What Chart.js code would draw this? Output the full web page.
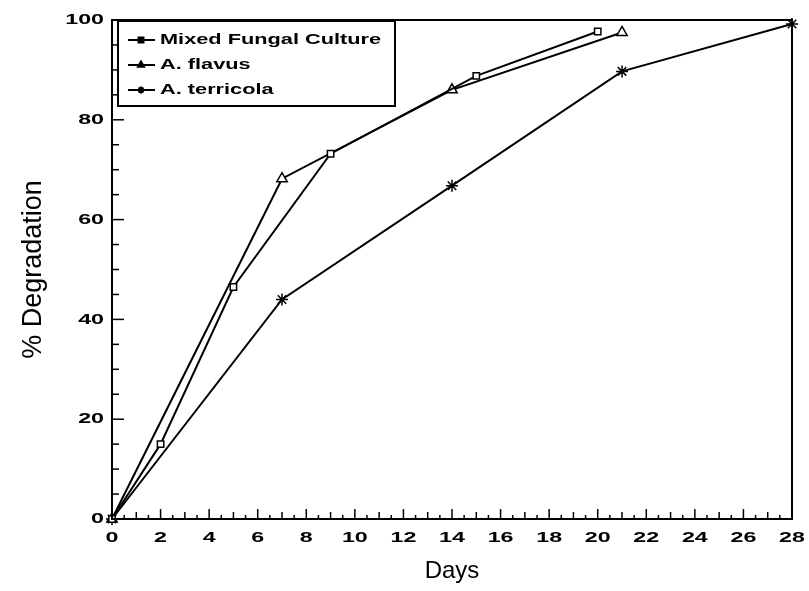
<!DOCTYPE html>
<html>
<head>
<meta charset="utf-8">
<script src="https://cdn.jsdelivr.net/npm/chart.js@4.4.1/dist/chart.umd.min.js"></script>
<style>
  html, body { margin: 0; padding: 0; background: #fff; }
  #wrap { width: 809px; height: 591px; }
</style>
</head>
<body>
<div id="wrap"><canvas id="chart" width="809" height="591"></canvas></div>
<script>
// data
var seriesLabels = ["Mixed Fungal Culture", "A. flavus", "A. terricola"];
var mixedDays = [0, 2, 5, 9, 15, 20];
var mixedValues = [0, 15, 46.5, 73.2, 88.8, 97.7];
var flavusDays = [0, 7, 14, 21];
var flavusValues = [0, 68.2, 86, 97.5];
var terricolaDays = [0, 7, 14, 21, 28];
var terricolaValues = [0, 44, 66.8, 89.7, 99.2];
var dayTicks = [0, 2, 4, 6, 8, 10, 12, 14, 16, 18, 20, 22, 24, 26, 28];
var percentTicks = [0, 20, 40, 60, 80, 100];

var boldFont = 'bold 15px "Liberation Sans", Arial, sans-serif';
var stretch = 1.55;

function toPoints(days, values) {
    return days.map(function(d, i) { return { x: d, y: values[i] }; });
}

function wideText(ctx, text, x, y, align, sx) {
    ctx.save();
    ctx.translate(x, y);
    ctx.scale(sx, 1);
    ctx.textAlign = align;
    ctx.textBaseline = "middle";
    ctx.fillText(text, 0, 0);
    ctx.restore();
}

function line(ctx, x1, y1, x2, y2) {
    ctx.beginPath();
    ctx.moveTo(x1, y1);
    ctx.lineTo(x2, y2);
    ctx.stroke();
}

// box, inward ticks and wide bold tick labels
var axisDecor = {
    id: "axisDecor",
    afterDraw: function(chart) {
        var ctx = chart.ctx;
        var area = chart.chartArea;
        var xs = chart.scales.x;
        var ys = chart.scales.y;
        ctx.save();
        ctx.strokeStyle = "#000";
        ctx.fillStyle = "#000";
        ctx.lineWidth = 2;
        ctx.strokeRect(area.left, area.top, area.right - area.left, area.bottom - area.top);

        ctx.lineWidth = 1.5;
        for (var v = 0; v <= 100; v += 5) {
            var py = ys.getPixelForValue(v);
            line(ctx, area.left, py, area.left + (v % 20 === 0 ? 12 : 7), py);
        }
        for (var d = 0; d <= 28; d += 0.5) {
            var px = xs.getPixelForValue(d);
            var len = d % 2 === 0 ? 10 : (d % 1 === 0 ? 7 : 4);
            line(ctx, px, area.bottom, px, area.bottom - len);
        }

        ctx.font = boldFont;
        xs.ticks.forEach(function(t) {
            wideText(ctx, String(t.value), xs.getPixelForValue(t.value), area.bottom + 19, "center", stretch);
        });
        ys.ticks.forEach(function(t) {
            wideText(ctx, String(t.value), area.left - 8, ys.getPixelForValue(t.value), "right", stretch);
        });
        ctx.restore();
    }
};

// legend box in the upper left of the plot
var legendBox = {
    id: "legendBox",
    afterDraw: function(chart) {
        var ctx = chart.ctx;
        var left = 118, top = 21, right = 395, bottom = 106;
        ctx.save();
        ctx.fillStyle = "#fff";
        ctx.fillRect(left, top, right - left, bottom - top);
        ctx.strokeStyle = "#000";
        ctx.lineWidth = 2;
        ctx.strokeRect(left, top, right - left, bottom - top);
        ctx.font = boldFont;
        chart.data.datasets.forEach(function(ds, i) {
            var y = top + 19 + i * 25;
            ctx.lineWidth = 2;
            ctx.strokeStyle = "#000";
            line(ctx, 128, y, 155, y);
            ctx.fillStyle = "#000";
            Chart.helpers.drawPoint(ctx, { pointStyle: ds.pointStyle, radius: 3.5, borderWidth: 1.5, rotation: 0 }, 141, y);
            ctx.fillStyle = "#000";
            wideText(ctx, ds.label, 160, y, "left", 1.45);
        });
        ctx.restore();
    }
};

function makeSet(label, days, values, style, radius) {
    return {
        label: label,
        data: toPoints(days, values),
        borderColor: "#000",
        borderWidth: 2,
        pointStyle: style,
        pointRadius: radius,
        pointBorderColor: "#000",
        pointBackgroundColor: "#fff",
        pointBorderWidth: 1.5,
        tension: 0,
        clip: false
    };
}

var ctx = document.getElementById("chart").getContext("2d");
var chart = new Chart(ctx, {
    type: "line",
    data: {
        datasets: [
            makeSet(seriesLabels[0], mixedDays, mixedValues, "rect", 4.5),
            makeSet(seriesLabels[1], flavusDays, flavusValues, "triangle", 6),
            makeSet(seriesLabels[2], terricolaDays, terricolaValues, "star", 6)
        ]
    },
    options: {
        responsive: false,
        devicePixelRatio: 1,
        animation: false,
        layout: { padding: { top: 20, right: 17, left: 0, bottom: 0 } },
        plugins: {
            legend: { display: false },
            tooltip: { enabled: false }
        },
        scales: {
            x: {
                type: "linear",
                min: 0,
                max: 28,
                grid: { display: false },
                border: { display: false },
                ticks: { display: false },
                afterBuildTicks: function(scale) {
                    scale.ticks = dayTicks.map(function(v) { return { value: v }; });
                },
                afterFit: function(scale) { scale.height = 72; },
                title: {
                    display: true,
                    text: "Days",
                    color: "#000",
                    font: { family: '"Liberation Sans", Arial, sans-serif', size: 24 },
                    padding: { top: 0, bottom: 5 }
                }
            },
            y: {
                type: "linear",
                min: 0,
                max: 100,
                grid: { display: false },
                border: { display: false },
                ticks: { display: false },
                afterBuildTicks: function(scale) {
                    scale.ticks = percentTicks.map(function(v) { return { value: v }; });
                },
                afterFit: function(scale) { scale.width = 112; },
                title: {
                    display: true,
                    text: "% Degradation",
                    color: "#000",
                    font: { family: '"Liberation Sans", Arial, sans-serif', size: 27 },
                    padding: { top: 17, bottom: 0 }
                }
            }
        }
    },
    plugins: [axisDecor, legendBox]
});
</script>
</body>
</html>
